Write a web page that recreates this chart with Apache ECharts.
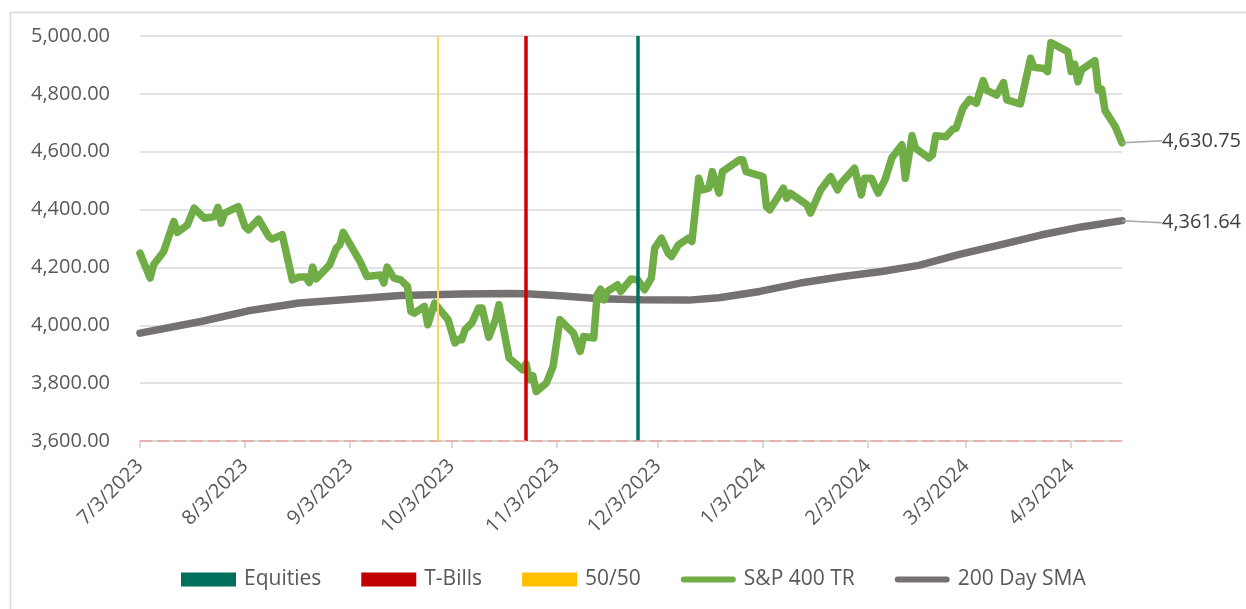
<!DOCTYPE html>
<html><head><meta charset="utf-8">
<script src="https://cdn.jsdelivr.net/npm/echarts@6/dist/echarts.min.js"></script>
<style>html,body{margin:0;padding:0;background:#fff}#c{width:1246px;height:609px}</style>
</head><body><div id="c"></div><script>
// ---- data ----
const spxDates = [
'2023-07-03','2023-07-06','2023-07-07','2023-07-10','2023-07-13','2023-07-14','2023-07-17','2023-07-19','2023-07-22','2023-07-25',
'2023-07-26','2023-07-27','2023-07-28','2023-08-01','2023-08-03','2023-08-04','2023-08-07','2023-08-10','2023-08-11','2023-08-14',
'2023-08-17','2023-08-19','2023-08-21','2023-08-22','2023-08-23','2023-08-24','2023-08-28','2023-08-30','2023-08-31','2023-09-01',
'2023-09-06','2023-09-08','2023-09-12','2023-09-13','2023-09-14','2023-09-16','2023-09-18','2023-09-20','2023-09-21','2023-09-22',
'2023-09-25','2023-09-26','2023-09-28','2023-10-02','2023-10-04','2023-10-05','2023-10-06','2023-10-07','2023-10-09','2023-10-11',
'2023-10-12','2023-10-14','2023-10-16','2023-10-17','2023-10-20','2023-10-24','2023-10-25','2023-10-26','2023-10-27','2023-10-28',
'2023-10-31','2023-11-02','2023-11-04','2023-11-08','2023-11-10','2023-11-11','2023-11-14','2023-11-15','2023-11-16','2023-11-17',
'2023-11-18','2023-11-21','2023-11-22','2023-11-25','2023-11-27','2023-11-29','2023-12-01','2023-12-02','2023-12-04','2023-12-06',
'2023-12-07','2023-12-09','2023-12-12','2023-12-13','2023-12-15','2023-12-16','2023-12-18','2023-12-19','2023-12-21','2023-12-22',
'2023-12-27','2023-12-28','2023-12-29','2024-01-03','2024-01-04','2024-01-05','2024-01-09','2024-01-10','2024-01-11','2024-01-16',
'2024-01-17','2024-01-20','2024-01-23','2024-01-25','2024-01-26','2024-01-30','2024-02-01','2024-02-02','2024-02-04','2024-02-06',
'2024-02-08','2024-02-10','2024-02-13','2024-02-14','2024-02-16','2024-02-17','2024-02-21','2024-02-22','2024-02-23','2024-02-26',
'2024-02-28','2024-02-29','2024-03-02','2024-03-04','2024-03-06','2024-03-08','2024-03-09','2024-03-12','2024-03-14','2024-03-15',
'2024-03-19','2024-03-22','2024-03-23','2024-03-26','2024-03-27','2024-03-28','2024-04-02','2024-04-03','2024-04-04','2024-04-05',
'2024-04-06','2024-04-10','2024-04-11','2024-04-12','2024-04-13','2024-04-16','2024-04-18'
];
const spxValues = [
4249,4163,4209,4255,4359,4321,4347,4405,4370,4376,
4408,4353,4388,4410,4341,4330,4367,4307,4298,4313,
4157,4167,4167,4148,4201,4160,4209,4267,4278,4321,
4220,4169,4174,4146,4201,4163,4157,4134,4048,4042,
4065,4002,4077,4019,3939,3952,3950,3985,4008,4060,
4060,3959,4020,4071,3887,3846,3867,3812,3826,3771,
3800,3858,4019,3973,3910,3961,3956,4105,4125,4088,
4117,4140,4117,4160,4157,4123,4163,4267,4301,4249,
4238,4278,4301,4290,4508,4468,4474,4531,4457,4531,
4572,4572,4531,4514,4410,4399,4474,4439,4457,4416,
4388,4468,4514,4468,4491,4543,4451,4508,4508,4457,
4503,4578,4624,4508,4655,4612,4578,4589,4655,4652,
4678,4681,4750,4781,4768,4846,4813,4796,4839,4779,
4765,4923,4892,4888,4877,4977,4946,4877,4903,4842,
4883,4915,4813,4816,4742,4687,4630.75
];
const smaDates = [
'2023-07-03','2023-07-21','2023-08-04','2023-08-19','2023-09-03','2023-09-18','2023-10-06','2023-10-20','2023-10-25','2023-11-04',
'2023-11-16','2023-11-28','2023-12-12','2023-12-21','2024-01-02','2024-01-14','2024-01-26','2024-02-07','2024-02-18','2024-03-01',
'2024-03-13','2024-03-25','2024-04-06','2024-04-18'
];
const smaValues = [
3973,4013,4050,4077,4090,4103,4108,4110,4109,4102,
4092,4088,4087,4095,4117,4146,4168,4186,4207,4245,
4278,4312,4340,4361.64
];
const signalNames = ['Equities','T-Bills','50/50'];
const signalDates = ['2023-11-27','2023-10-25','2023-09-29'];
const xTickLabels = ['2023-07-03','2023-08-03','2023-09-03','2023-10-03','2023-11-03','2023-12-03','2024-01-03','2024-02-03','2024-03-03','2024-04-03'];
const xStart = '2023-07-03', xEnd = '2024-04-18';
const yMin = 3600, yMax = 5000, yStep = 200;

// ---- helpers ----
function ts(s){const p=s.split('-').map(Number);return Date.UTC(p[0],p[1]-1,p[2]);}
function fmtDate(v){const d=new Date(v);return (d.getUTCMonth()+1)+'/'+d.getUTCDate()+'/'+d.getUTCFullYear();}
function fmtNum(v){return Number(v).toLocaleString('en-US',{minimumFractionDigits:2,maximumFractionDigits:2});}
const FONT = "'Open Sans', 'Noto Sans', sans-serif";
const signalColors = ['#006F5B','#C00000','#FFC000'];
const signalLineColors = ['#007060','#D00000','#FFD45C'];
const signalWidths = [3.5,3.5,2];
const lineIcon = 'path://M3,0L52,0A3,3 0 0 1 52,6L3,6A3,3 0 0 1 3,0Z';

function lineData(dates, values){
  return dates.map((d,i)=>{
    const item = {value:[ts(d), values[i]]};
    if (i === dates.length-1) {
      item.label = {show:true, position:'right', distance:4, formatter: p=>fmtNum(p.value[1]),
        fontFamily:FONT, fontSize:20, color:'#404040'};
      item.labelLine = {show:true, smooth:0.4, lineStyle:{color:'#A6A6A6', width:1.5}};
    }
    return item;
  });
}

const chart = echarts.init(document.getElementById('c'), null, {renderer:'canvas'});
const series = [];
signalNames.forEach((n,i)=>{
  series.push({
    name:n, type:'line', data:[], color:signalColors[i], z:1,
    markLine:{silent:true, symbol:'none', animation:false, label:{show:false},
      emphasis:{disabled:true},
      lineStyle:{color:signalLineColors[i], width:signalWidths[i], type:'solid', opacity:1},
      data:[{xAxis: ts(signalDates[i])}]}
  });
});
// faint dashed baseline of the zero-height signal columns
series[1].markLine.data.push({yAxis: yMin, lineStyle:{color:'#E7A59C', width:1.5, type:[12,5]}});

series.push({
  name:'S&P 400 TR', type:'line', data:lineData(spxDates, spxValues), color:'#70AD47', z:3,
  showSymbol:true, showAllSymbol:true, symbol:'circle', symbolSize:0,
  lineStyle:{width:7.5, color:'#70AD47', join:'round', cap:'round'},
  labelLayout:{dx:36, dy:-2}, animation:false
});
series.push({
  name:'200 Day SMA', type:'line', data:lineData(smaDates, smaValues), color:'#767171', z:2,
  showSymbol:true, showAllSymbol:true, symbol:'circle', symbolSize:0,
  lineStyle:{width:7.5, color:'#767171', join:'round', cap:'round'},
  labelLayout:{dx:36, dy:2}, animation:false
});

chart.setOption({
  animation:false,
  backgroundColor:'#fff',
  graphic:[{type:'rect', left:8, top:10, shape:{width:1300, height:700}, style:{fill:'none', stroke:'#D9D9D9', lineWidth:1.5}, silent:true, z:-10}],
  grid:{left:140, right:124, top:36, bottom:168, containLabel:false},
  legend:{
    left:176, top:564, itemWidth:55, itemHeight:14, itemGap:40,
    textStyle:{fontFamily:FONT, fontSize:21, color:'#595959', padding:[0,0,0,3]},
    data:[
      {name:'Equities', icon:'rect'},
      {name:'T-Bills', icon:'rect'},
      {name:'50/50', icon:'rect'},
      {name:'S&P 400 TR', icon:lineIcon},
      {name:'200 Day SMA', icon:lineIcon}
    ]
  },
  xAxis:{
    type:'value', min:ts(xStart), max:ts(xEnd),
    axisLine:{show:true, lineStyle:{color:'#D9D9D9', width:2}},
    axisTick:{show:true, customValues:xTickLabels.map(ts), length:7, lineStyle:{color:'#D9D9D9', width:2}},
    axisLabel:{customValues:xTickLabels.map(ts), formatter:fmtDate, rotate:45, margin:22,
      fontFamily:FONT, fontSize:20, color:'#595959', hideOverlap:false, showMinLabel:true, showMaxLabel:true},
    splitLine:{show:false}
  },
  yAxis:{
    type:'value', min:yMin, max:yMax, interval:yStep,
    axisLine:{show:false}, axisTick:{show:false},
    axisLabel:{formatter:fmtNum, margin:30, fontFamily:FONT, fontSize:20, color:'#595959'},
    splitLine:{lineStyle:{color:'#D9D9D9', width:1.5}}
  },
  series: series
});
</script></body></html>
